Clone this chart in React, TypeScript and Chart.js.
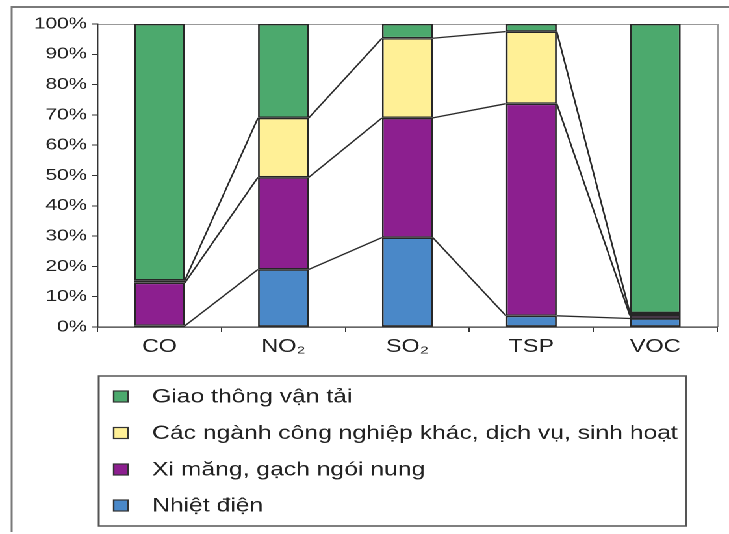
import React, { useEffect, useRef } from "react";
import { Chart, registerables } from "chart.js";

Chart.register(...registerables);

const categories = ["CO", "NO₂", "SO₂", "TSP", "VOC"];
const seriesNames = [
  "Nhiệt điện",
  "Xi măng, gạch ngói nung",
  "Các ngành công nghiệp khác, dịch vụ, sinh hoạt",
  "Giao thông vận tải",
];
const nhietDien = [0.4, 19, 29.5, 3.7, 2.8];
const xiMang = [14.2, 30.4, 39.5, 70, 1.0];
const nganhKhac = [0.8, 19.6, 26.3, 23.8, 0.8];
const giaoThong = [84.6, 31, 4.7, 2.5, 95.4];
const seriesColors = ["#4A88C8", "#8C1F8F", "#FFF096", "#4CA96D"];
const yTicks = [0, 10, 20, 30, 40, 50, 60, 70, 80, 90, 100];

const W = 561;
const H = 534;
const SX = 729 / W;
const FONT = "'Liberation Sans', Arial, sans-serif";

const framePlugin = {
  id: "frame",
  beforeDraw(chart: any) {
    const ctx = chart.ctx;
    const a = chart.chartArea;
    ctx.save();
    ctx.strokeStyle = "#7a7a7a";
    ctx.lineWidth = 2;
    ctx.beginPath();
    ctx.moveTo(9, 7);
    ctx.lineTo(W, 7);
    ctx.stroke();
    ctx.lineWidth = 1.5;
    ctx.beginPath();
    ctx.moveTo(9, 6);
    ctx.lineTo(9, H - 2);
    ctx.stroke();
    ctx.strokeStyle = "#999";
    ctx.lineWidth = 1;
    ctx.beginPath();
    ctx.moveTo(a.left, a.top + 0.5);
    ctx.lineTo(a.right + 0.5, a.top + 0.5);
    ctx.lineTo(a.right + 0.5, a.bottom);
    ctx.stroke();
    ctx.restore();
  },
};

const seriesLinesPlugin = {
  id: "seriesLines",
  afterDatasetsDraw(chart: any) {
    const ctx = chart.ctx;
    ctx.save();
    ctx.strokeStyle = "#2a2a2a";
    ctx.lineWidth = 1.3;
    const n = chart.data.datasets.length;
    for (let d = 0; d < n - 1; d++) {
      const meta = chart.getDatasetMeta(d);
      for (let j = 0; j < meta.data.length - 1; j++) {
        const a = meta.data[j].getProps(["x", "y", "width"], true);
        const b = meta.data[j + 1].getProps(["x", "y", "width"], true);
        ctx.beginPath();
        ctx.moveTo(a.x + a.width / 2, a.y);
        ctx.lineTo(b.x - b.width / 2, b.y);
        ctx.stroke();
      }
    }
    ctx.restore();
  },
};

const legendPlugin = {
  id: "boxLegend",
  afterDraw(chart: any) {
    const ctx = chart.ctx;
    ctx.save();
    const bx = 76, by = 376, bw = 452, bh = 150;
    ctx.strokeStyle = "#555";
    ctx.lineWidth = 1.5;
    ctx.strokeRect(bx, by, bw, bh);
    const ds = chart.data.datasets;
    const rows = [396.5, 433, 469.5, 505.5];
    ctx.font = `19px ${FONT}`;
    ctx.textBaseline = "middle";
    ctx.textAlign = "left";
    for (let i = 0; i < ds.length; i++) {
      const d = ds[ds.length - 1 - i];
      const cy = rows[i];
      ctx.fillStyle = d.backgroundColor;
      ctx.fillRect(87, cy - 6, 12, 12);
      ctx.strokeStyle = "#333";
      ctx.lineWidth = 1.2;
      ctx.strokeRect(87.5, cy - 5.5, 11, 11);
      ctx.fillStyle = "#222";
      ctx.fillText(d.label, 117, cy + 1);
    }
    ctx.restore();
  },
};

export default function App() {
  const ref = useRef<HTMLCanvasElement>(null);
  useEffect(() => {
    if (!ref.current) return;
    const data = [nhietDien, xiMang, nganhKhac, giaoThong];
    const chart = new Chart(ref.current, {
      type: "bar",
      data: {
        labels: categories,
        datasets: data.map((values, i) => ({
          label: seriesNames[i],
          data: values,
          backgroundColor: seriesColors[i],
          borderColor: "#262626",
          borderWidth: 1.4,
          borderSkipped: false,
          categoryPercentage: 1,
          barPercentage: 0.41,
        })),
      },
      options: {
        responsive: false,
        animation: false,
        devicePixelRatio: 2,
        layout: { padding: { top: 24, left: 0, right: 9, bottom: 177 } },
        plugins: { legend: { display: false }, tooltip: { enabled: false } },
        scales: {
          x: {
            stacked: true,
            grid: {
              display: true,
              drawOnChartArea: false,
              drawTicks: true,
              tickLength: 5,
              color: "#333",
              offset: true,
            },
            border: { color: "#333", width: 1.2 },
            ticks: { font: { family: FONT, size: 18 }, color: "#222", padding: 4 },
            afterFit: (s: any) => {
              s.height = 30;
            },
          },
          y: {
            stacked: true,
            min: 0,
            max: 100,
            afterBuildTicks: (s: any) => {
              s.ticks = yTicks.map((v) => ({ value: v }));
            },
            ticks: {
              font: { family: FONT, size: 16 },
              color: "#222",
              padding: 4,
              callback: (v: any) => `${v}%`,
            },
            grid: { drawOnChartArea: false, tickLength: 4, color: "#333" },
            border: { color: "#333", width: 1.2 },
            afterFit: (s: any) => {
              s.width = 75;
            },
          },
        },
      },
      plugins: [framePlugin, seriesLinesPlugin, legendPlugin],
    } as any);
    return () => chart.destroy();
  }, []);

  return (
    <div
      style={{
        position: "absolute",
        left: 0,
        top: 0,
        width: W,
        height: H,
        transform: `scaleX(${SX})`,
        transformOrigin: "0 0",
        background: "#fff",
      }}
    >
      <canvas ref={ref} width={W} height={H} style={{ display: "block" }} />
    </div>
  );
}
